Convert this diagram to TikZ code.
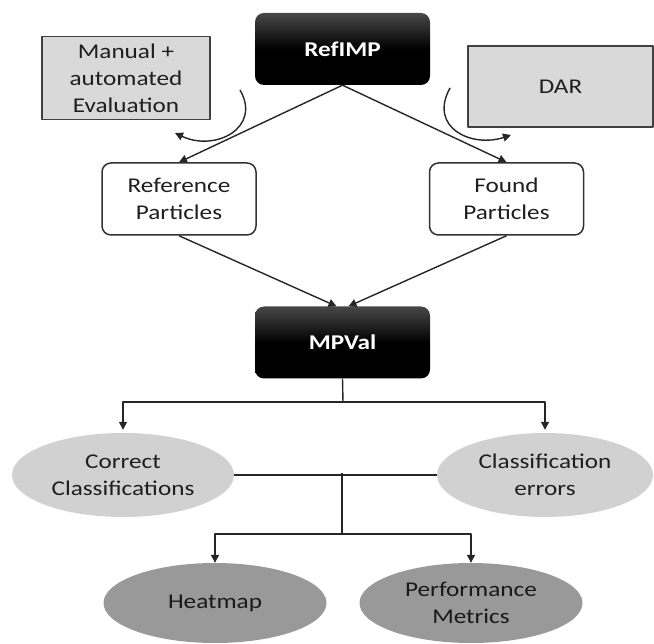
\documentclass[tikz,border=0pt]{standalone}
\usepackage{fontspec}
\setmainfont{Carlito}[FakeStretch=1.2]
\usepackage{tikz}
\usetikzlibrary{shapes.geometric,arrows.meta}
\begin{document}
\begin{tikzpicture}[x=1pt,y=-1pt,line join=round]
\tikzstyle{arr} = [-{Triangle[length=8pt,width=8pt]},line width=1.4pt,black!85]
\tikzstyle{dark} = [rounded corners=9pt,top color=black!72,bottom color=black,middle color=black,minimum width=175pt,minimum height=72pt,text=white,font=\bfseries]
\tikzstyle{plain} = [draw=black!80,line width=1.5pt,rounded corners=9pt,fill=white,minimum width=154pt,minimum height=72pt,align=center,text=black!88]
\tikzstyle{grey} = [draw=black!75,line width=1.5pt,fill=gray!30,align=center,text=black!88]
\tikzstyle{lite} = [ellipse,fill=gray!36,minimum width=222pt,minimum height=84pt,inner sep=0pt,align=center,text=black!88]
\tikzstyle{deep} = [ellipse,fill=black!40,minimum width=223pt,minimum height=80pt,inner sep=0pt,align=center,text=black!90]
\useasboundingbox (0,0) rectangle (654,644);
\fontsize{21}{27}\selectfont
\node[grey,minimum width=168pt,minimum height=82pt] (manual) at (126,78) {Manual +\\automated\\Evaluation};
\node[grey,minimum width=185pt,minimum height=81pt] (dar) at (560.5,86.5) {DAR};
\node[dark] (refimp) at (342.5,49) {RefIMP};
\node[plain] (refp) at (179,199) {Reference\\Particles};
\node[plain] (found) at (506.5,199) {Found\\Particles};
\node[dark] (mpval) at (342.5,342.5) {MPVal};
\node[lite] (correct) at (123,475) {Correct\\Classifications};
\node[lite,minimum width=216pt] (errors) at (545,475) {Classification\\errors};
\node[deep] (heat) at (215,603) {Heatmap};
\node[deep] (perf) at (471,603) {Performance\\Metrics};
\coordinate (evalA) at (240,90);
\coordinate (evalB) at (175,133);
\coordinate (darA) at (450,88);
\coordinate (darB) at (511,135);
\coordinate (fork) at (343,402);
\coordinate (mid) at (342,473);
\coordinate (fork2) at (342,534);
\draw[arr] (evalA) .. controls (262,128) and (215,152) .. (evalB);
\draw[arr] (darA) .. controls (428,128) and (472,148) .. (darB);
\draw[arr] (refimp.south) -- (refp.north);
\draw[arr] (refimp.south) -- (found.north);
\draw[arr] (refp.south) -- ([xshift=-6pt]mpval.north);
\draw[arr] (found.south) -- ([xshift=6pt]mpval.north);
\draw[line width=1.4pt,black!85] (mpval.south) -- (fork);
\draw[arr] (fork) -| ([yshift=3pt]correct.north);
\draw[arr] (fork) -| ([yshift=3pt]errors.north);
\draw[line width=1.4pt,black!85] (correct.east) -- (errors.west);
\draw[line width=1.4pt,black!85] (mid) -- (fork2);
\draw[arr] (fork2) -| (heat.north);
\draw[arr] (fork2) -| (perf.north);
\end{tikzpicture}
\end{document}
